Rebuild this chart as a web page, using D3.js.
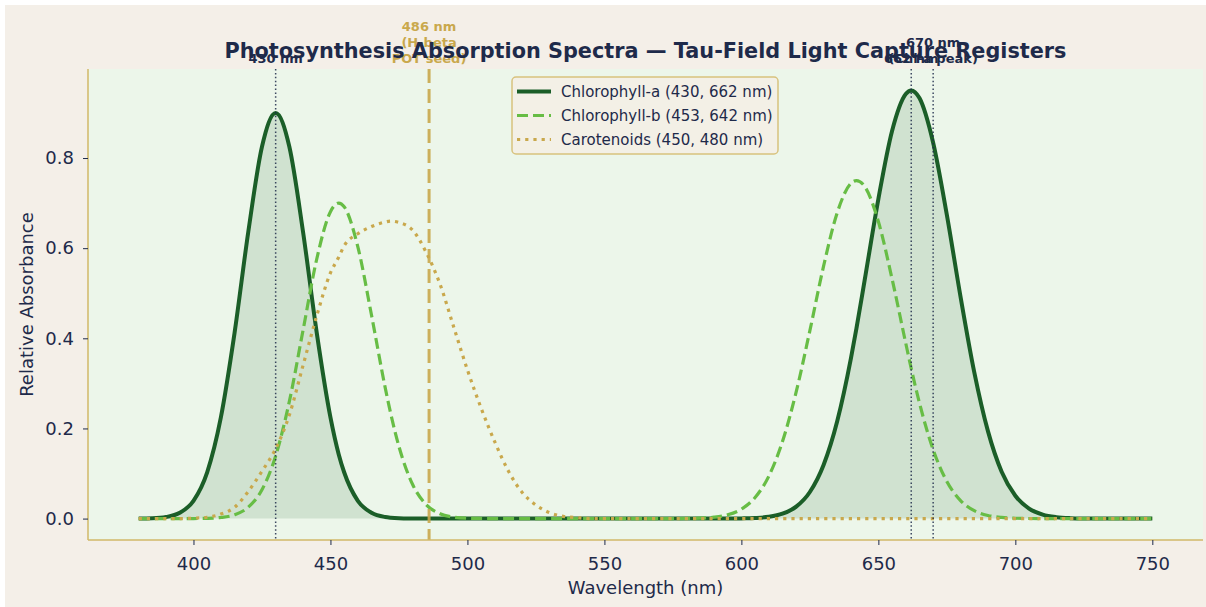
<!DOCTYPE html>
<html><head><meta charset="utf-8">
<script src="https://cdn.jsdelivr.net/npm/d3@7"></script>
<style>
body{margin:0;background:#ffffff}
svg{display:block}
text{font-family:"DejaVu Sans",sans-serif}
</style>
</head><body>
<svg id="chart" width="1206" height="607"></svg>
<script>
// ---- data ----
const wavelengths = [380,385,390,395,400,405,410,415,420,425,430,435,440,445,450,453,455,460,465,470,472,475,480,485,490,495,500,505,510,515,520,525,530,535,540,545,550,555,560,565,570,575,580,585,590,595,600,605,610,615,620,625,630,635,640,642,645,650,655,660,662,665,670,675,680,685,690,695,700,705,710,715,720,725,730,735,740,745,750];
const chlorophyllA = [0.0002,0.0008,0.0035,0.0128,0.0395,0.1028,0.2245,0.412,0.636,0.825,0.900,0.825,0.636,0.412,0.2245,
  0.143,
  0.1028,0.0395,0.0128,0.0035,
  0.002,
  0.0008,0.0002,0,0,0,0,0,0,0,0,0,0,0,0,0,0,0,0,0,0,0,0,0,0,0,0.0004,0.0013,0.0039,0.0108,0.0265,0.059,0.119,0.2165,0.356,
  0.422,
  0.529,0.709,0.860,0.942,
  0.950,
  0.933,0.834,0.674,0.492,0.325,0.194,0.104,0.0508,0.0223,0.0089,0.0032,0.001,0.0003,0.0001,0,0,0,0];
const chlorophyllB = [0,0,0,0,0.0001,0.0006,0.0025,0.0085,0.0252,0.064,0.139,0.260,0.418,0.576,0.681,
  0.700,
  0.692,0.603,0.451,0.290,
  0.233,
  0.160,0.0756,0.0307,0.0107,0.0032,0.0008,0.0002,0,0,0,0,0,0,0,0,0,0,0,0,0,0,0.0003,0.001,0.0031,0.0085,0.0209,0.0467,0.094,0.171,0.281,0.417,0.560,0.679,0.744,
  0.750,
  0.737,0.659,0.532,0.389,
  0.333,
  0.2565,0.153,0.0824,0.040,0.0176,0.007,0.0025,0.0008,0.0002,0,0,0,0,0,0,0,0,0];
const carotenoids = [0,0,0,0,0.001,0.003,0.01,0.025,0.06,0.105,0.155,0.23,0.34,0.45,0.545,
  0.58,
  0.605,0.632,0.648,0.658,
  0.660,
  0.657,0.64,0.59,0.52,0.425,0.33,0.245,0.17,0.105,0.058,0.03,0.013,0.005,0.002,0,0,0,0,0,0,0,0,0,0,0,0,0,0,0,0,0,0,0,0,
  0,
  0,0,0,0,
  0,
  0,0,0,0,0,0,0,0,0,0,0,0,0,0,0,0,0,0];
const seriesLabels = ["Chlorophyll-a (430, 662 nm)","Chlorophyll-b (453, 642 nm)","Carotenoids (450, 480 nm)"];
const xTicks = [400,450,500,550,600,650,700,750];
const yTicks = [0.0,0.2,0.4,0.6,0.8];
const markerNm = [430,662,670];
const markerText = [["430 nm"],["662 nm"],["670 nm","(Chl-a peak)"]];
const hBetaNm = 486;
const hBetaText = ["486 nm","(H-beta","POT seed)"];
const titleText = "Photosynthesis Absorption Spectra \u2014 Tau-Field Light Capture Registers";

// ---- layout ----
const W = 1206, H = 607;
const plot = {left:88, right:1203, top:69, bottom:540};
const navy = "#1e2a4a", gold = "#c9a84c";
const cA = "#1b5e28", cB = "#67bd45", cC = "#c9a84c";

const svg = d3.select("#chart");
svg.append("rect").attr("x",5).attr("y",5).attr("width",W-5).attr("height",H-5).attr("fill","#f4efe8");

const xMin = d3.min(wavelengths), xMax = d3.max(wavelengths);
const xPad = (xMax-xMin)*0.05;
const yMax = d3.max(chlorophyllA.concat(chlorophyllB, carotenoids));
const yPad = yMax*0.05;
const x = d3.scaleLinear().domain([xMin-xPad, xMax+xPad]).range([plot.left, plot.right]);
const y = d3.scaleLinear().domain([-yPad, yMax+yPad]).range([plot.bottom, plot.top]);

svg.append("rect").attr("x",plot.left).attr("y",plot.top)
  .attr("width",plot.right-plot.left).attr("height",plot.bottom-plot.top).attr("fill","#ecf6ea");

const rows = wavelengths.map((w,i)=>({w, a:chlorophyllA[i], b:chlorophyllB[i], c:carotenoids[i]}));
const g = svg.append("g");

g.append("path").datum(rows)
  .attr("d", d3.area().x(d=>x(d.w)).y0(y(0)).y1(d=>y(d.a)).curve(d3.curveMonotoneX))
  .attr("fill", cA).attr("fill-opacity",0.13);

const line = key => d3.line().x(d=>x(d.w)).y(d=>y(d[key])).curve(d3.curveMonotoneX);
g.append("path").datum(rows).attr("d", line("a")).attr("fill","none")
  .attr("stroke",cA).attr("stroke-width",4).attr("stroke-linejoin","round");
g.append("path").datum(rows).attr("d", line("b")).attr("fill","none")
  .attr("stroke",cB).attr("stroke-width",3.2).attr("stroke-dasharray","11,5");
g.append("path").datum(rows).attr("d", line("c")).attr("fill","none")
  .attr("stroke",cC).attr("stroke-width",3.2).attr("stroke-dasharray","3.2,5");

// vertical markers
markerNm.forEach(nm=>{
  g.append("line").attr("x1",x(nm)).attr("x2",x(nm)).attr("y1",plot.top).attr("y2",plot.bottom)
    .attr("stroke",navy).attr("stroke-width",1.5).attr("stroke-dasharray","1.5,2.4").attr("opacity",0.85);
});
g.append("line").attr("x1",x(hBetaNm)).attr("x2",x(hBetaNm)).attr("y1",plot.top).attr("y2",plot.bottom)
  .attr("stroke",gold).attr("stroke-width",3).attr("stroke-dasharray","14,6").attr("opacity",0.9);

// spines
svg.append("line").attr("x1",plot.left).attr("x2",plot.left).attr("y1",plot.top).attr("y2",plot.bottom)
  .attr("stroke","#d2b868").attr("stroke-width",1.5);
svg.append("line").attr("x1",plot.left).attr("x2",plot.right).attr("y1",plot.bottom).attr("y2",plot.bottom)
  .attr("stroke","#d2b868").attr("stroke-width",1.5);

// axes
const xAxis = svg.append("g").attr("transform",`translate(0,${plot.bottom})`)
  .call(d3.axisBottom(x).tickValues(xTicks).tickSize(5).tickPadding(12).tickFormat(d3.format("d")));
const yAxis = svg.append("g").attr("transform",`translate(${plot.left},0)`)
  .call(d3.axisLeft(y).tickValues(yTicks).tickSize(5).tickPadding(9).tickFormat(d3.format(".1f")));
[xAxis,yAxis].forEach(ax=>{
  ax.select(".domain").remove();
  ax.selectAll(".tick line").attr("stroke",navy).attr("stroke-width",1);
  ax.selectAll(".tick text").attr("fill",navy).attr("font-size",18).attr("font-family","DejaVu Sans");
});

svg.append("text").attr("x",(plot.left+plot.right)/2).attr("y",594).attr("text-anchor","middle")
  .attr("font-size",18).attr("fill",navy).text("Wavelength (nm)");
svg.append("text").attr("transform",`translate(33,${(plot.top+plot.bottom)/2}) rotate(-90)`)
  .attr("text-anchor","middle").attr("font-size",18).attr("fill",navy).text("Relative Absorbance");

// legend
const lg = svg.append("g");
lg.append("rect").attr("x",512).attr("y",77).attr("width",266).attr("height",77).attr("rx",4)
  .attr("fill","#f3f0e6").attr("stroke","#d8c27e").attr("stroke-width",1.5);
const legendStyles = [
  {color:cA, w:4, dash:null},
  {color:cB, w:3.2, dash:"11,5"},
  {color:cC, w:3.2, dash:"3.2,5"}
];
seriesLabels.forEach((lab,i)=>{
  const cy = 91.5 + i*24;
  lg.append("line").attr("x1",517).attr("x2",551).attr("y1",cy).attr("y2",cy)
    .attr("stroke",legendStyles[i].color).attr("stroke-width",legendStyles[i].w)
    .attr("stroke-dasharray",legendStyles[i].dash);
  lg.append("text").attr("x",561).attr("y",cy+5.3).attr("font-size",15).attr("fill",navy).text(lab);
});

// annotations
markerNm.forEach((nm,i)=>{
  const lines = markerText[i];
  lines.forEach((t,j)=>{
    svg.append("text").attr("x",x(nm)).attr("y",63 - (lines.length-1-j)*16)
      .attr("text-anchor","middle").attr("font-size",13).attr("font-weight","bold").attr("fill",navy).text(t);
  });
});
hBetaText.forEach((t,j)=>{
  svg.append("text").attr("x",x(hBetaNm)).attr("y",63 - (hBetaText.length-1-j)*16)
    .attr("text-anchor","middle").attr("font-size",13).attr("font-weight","bold").attr("fill",gold).text(t);
});

// title
svg.append("text").attr("x",(plot.left+plot.right)/2).attr("y",58).attr("text-anchor","middle")
  .attr("font-size",20.8).attr("font-weight","bold").attr("fill",navy).text(titleText);
</script>
</body></html>
